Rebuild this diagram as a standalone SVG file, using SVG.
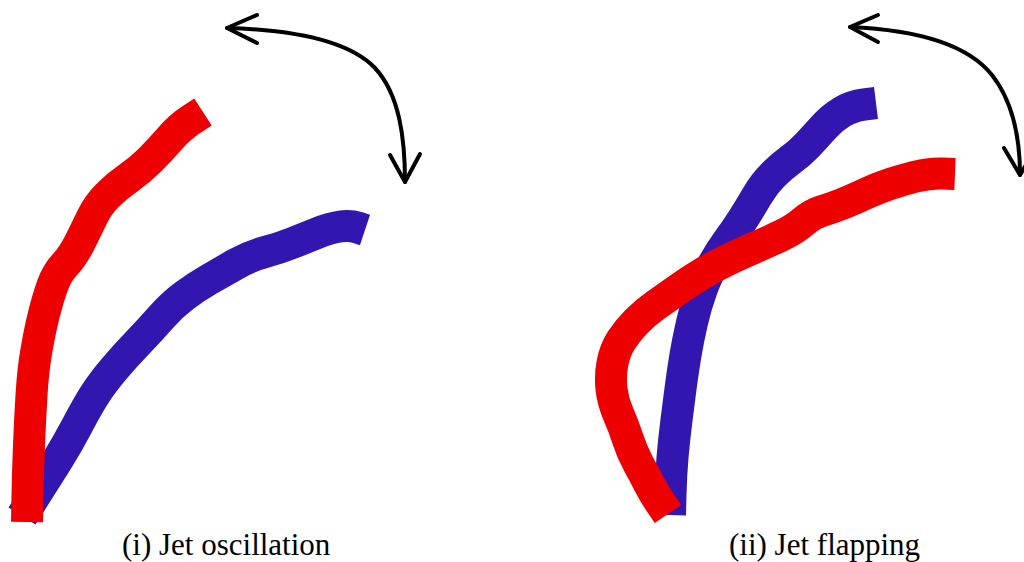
<svg xmlns="http://www.w3.org/2000/svg" width="1024" height="562" viewBox="0 0 1024 562">
  <style>
    .jet { fill: none; stroke-width: 32; stroke-linecap: butt; stroke-linejoin: round; }
    .red { stroke: #ee0000; }
    .blue { stroke: #3316b0; }
    .swing { fill: none; stroke: #000; stroke-width: 4; stroke-linecap: round; stroke-linejoin: round; }
    .label { font-family: "Liberation Serif", "Times New Roman", serif; font-size: 31px; fill: #000; }
  </style>

  <!-- panel (i): jet oscillation -->
  <g id="panel-oscillation">
    <g id="osc-blue-jet">
      <path class="jet blue" d="M22,516 L33.5,498 Q45,480 56,462.5 Q67,445 77.5,425 Q88,405 95.5,393.5 Q103,382 114,369 Q125,356 137.5,343 Q150,330 161,317.5 Q172,305 184,296 Q196,287 209,279.5 Q222,272 236,264 Q250,256 265,252 Q280,248 292.5,243 Q305,238 317.5,233 Q330,228 340,226.5 Q350,225 357.5,227.5 L365,230"/>
    </g>
    <g id="osc-red-jet">
      <path class="jet red" d="M27,522 L27.5,496 Q28,470 29,445 Q30,420 31.5,395 Q33,370 36.5,350 Q40,330 44,314 Q48,298 52.5,285.5 Q57,273 65,264.5 Q73,256 79.5,243 Q86,230 92,217.5 Q98,205 107.5,195.5 Q117,186 128.5,178 Q140,170 150,160 Q160,150 170,138.5 Q180,127 191.5,119.5 L203,112"/>
    </g>
    <g id="osc-swing-arrow">
      <path class="swing" d="M227,28 C300,30 350,42 375,68 C400,95 405,140 405,182"/>
      <path class="swing" d="M257,15 L227,28 L257,43"/>
      <path class="swing" d="M390,155 L405,182 L420,154"/>
    </g>
    <text class="label" x="122" y="555">(i) Jet oscillation</text>
  </g>

  <!-- panel (ii): jet flapping -->
  <g id="panel-flapping">
    <g id="flap-blue-jet">
      <path class="jet blue" d="M670,515 L670.5,495 Q671,475 672.5,457.5 Q674,440 676.5,420 Q679,400 681,385 Q683,370 685.5,355 Q688,340 692,322.5 Q696,305 701.5,290 Q707,275 713.5,263.5 Q720,252 728,241 Q736,230 743,219 Q750,208 757,196 Q764,184 773,175 Q782,166 791,159.5 Q800,153 807.5,145 Q815,137 823.5,127.5 Q832,118 842,112 Q852,106 864,104.5 L876,103"/>
    </g>
    <g id="flap-red-jet">
      <path class="jet red" d="M668,514 L661.5,504.5 Q655,495 650,485.5 Q645,476 638.5,464 Q632,452 628,439.5 Q624,427 618.5,414.5 Q613,402 611.5,389 Q610,376 612.5,363 Q615,350 621.5,340 Q628,330 637,321 Q646,312 656,305 Q666,298 678,289.5 Q690,281 702.5,273.5 Q715,266 727.5,260 Q740,254 755,247.5 Q770,241 782.5,235 Q795,229 803.5,221.5 Q812,214 822,211 Q832,208 842,204 Q852,200 865,194 Q878,188 890,184 Q902,180 916,176.5 Q930,173 942.5,173.5 L955,174"/>
    </g>
    <g id="flap-swing-arrow">
      <path class="swing" d="M850,27 C920,30 968,45 992,75 C1013,102 1020,140 1020,175"/>
      <path class="swing" d="M878,15 L850,27 L878,42"/>
      <path class="swing" d="M1004,148 L1020,175 L1036,148"/>
    </g>
    <text class="label" x="729" y="555">(ii) Jet flapping</text>
  </g>
</svg>
